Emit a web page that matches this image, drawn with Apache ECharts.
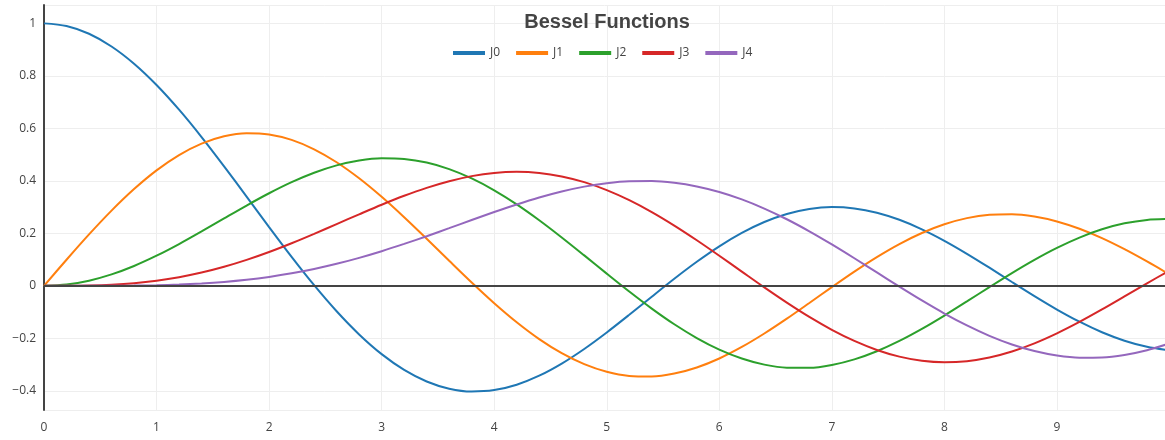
<!DOCTYPE html>
<html>
<head>
<meta charset="utf-8">
<script src="https://cdn.jsdelivr.net/npm/echarts@6/dist/echarts.min.js"></script>
<style>html,body{margin:0;padding:0;background:#fff}#c{width:1165px;height:440px}</style>
</head>
<body>
<div id="c"></div>
<script>
const xs = [0,0.2,0.4,0.6,0.8,1,1.2,1.4,1.6,1.8,2,2.2,2.4,2.6,2.8,3,3.2,3.4,3.6,3.8,4,4.2,4.4,4.6,4.8,5,5.2,5.4,5.6,5.8,6,6.2,6.4,6.6,6.8,7,7.2,7.4,7.6,7.8,8,8.2,8.4,8.6,8.8,9,9.2,9.4,9.6,9.8,10];
const J0 = [1,0.99,0.9604,0.912,0.8463,0.7652,0.6711,0.5669,0.4554,0.34,0.2239,0.1104,0.0025,-0.0968,-0.185,-0.2601,-0.3202,-0.3643,-0.3918,-0.4026,-0.3971,-0.3766,-0.3423,-0.2961,-0.2404,-0.1776,-0.1103,-0.0412,0.027,0.0917,0.1506,0.2017,0.2433,0.274,0.2931,0.3001,0.2951,0.2786,0.2516,0.2154,0.1717,0.1222,0.0692,0.0146,-0.0392,-0.0903,-0.1367,-0.1768,-0.209,-0.2323,-0.2459];
const J1 = [0,0.0995,0.196,0.2867,0.3688,0.4401,0.4983,0.5419,0.5699,0.5815,0.5767,0.556,0.5202,0.4708,0.4097,0.3391,0.2613,0.1792,0.0955,0.0128,-0.066,-0.1386,-0.2028,-0.2566,-0.2985,-0.3276,-0.3432,-0.3453,-0.3343,-0.311,-0.2767,-0.2329,-0.1816,-0.125,-0.0652,-0.0047,0.0543,0.1096,0.1592,0.2014,0.2346,0.258,0.2708,0.2728,0.2641,0.2453,0.2174,0.1816,0.1395,0.0928,0.0435];
const J2 = [0,0.005,0.0197,0.0437,0.0758,0.1149,0.1593,0.2074,0.257,0.3061,0.3528,0.3951,0.431,0.459,0.4776,0.4861,0.4835,0.4697,0.4448,0.4093,0.3641,0.3106,0.2501,0.1845,0.116,0.0466,-0.0217,-0.0867,-0.1464,-0.1989,-0.2429,-0.2768,-0.3001,-0.3119,-0.3123,-0.3014,-0.28,-0.249,-0.2097,-0.1638,-0.1131,-0.0593,-0.0047,0.0488,0.0992,0.1448,0.184,0.2154,0.2381,0.2512,0.2546];
const J3 = [0,0.0002,0.0013,0.0044,0.0102,0.0196,0.0329,0.0505,0.0725,0.0988,0.1289,0.1623,0.1981,0.2354,0.2726,0.3091,0.3431,0.3734,0.3987,0.418,0.4302,0.4344,0.4302,0.417,0.3952,0.3648,0.3265,0.2811,0.2297,0.1738,0.1148,0.0543,-0.006,-0.064,-0.1185,-0.1676,-0.2099,-0.2442,-0.2696,-0.2854,-0.2911,-0.2869,-0.273,-0.2501,-0.219,-0.1809,-0.1374,-0.0899,-0.0403,0.0097,0.0584];
const J4 = [0,0,0.0001,0.0003,0.001,0.0025,0.005,0.0091,0.015,0.0232,0.034,0.0476,0.0643,0.084,0.1067,0.132,0.1598,0.1892,0.2197,0.2507,0.2811,0.31,0.3365,0.3594,0.378,0.3912,0.3984,0.399,0.3925,0.3787,0.3576,0.3294,0.2945,0.2537,0.2077,0.1578,0.1051,0.051,-0.0031,-0.0557,-0.1054,-0.1506,-0.1903,-0.2233,-0.2485,-0.2655,-0.2736,-0.2728,-0.2633,-0.2453,-0.2196];
const names = ['J0','J1','J2','J3','J4'];
const colors = ['#1f77b4','#ff7f0e','#2ca02c','#d62728','#9467bd'];
const seriesValues = [J0,J1,J2,J3,J4];
const titleText = 'Bessel Functions';

const chart = echarts.init(document.getElementById('c'));
const font = '"Open Sans", "DejaVu Sans", sans-serif';
const series = seriesValues.map((vals, i) => ({
  name: names[i],
  type: 'line',
  data: xs.map((x, k) => [x, vals[k]]),
  showSymbol: false,
  smooth: 0.3,
  clip: true,
  z: 3,
  lineStyle: {color: colors[i], width: 2},
  itemStyle: {color: colors[i]}
}));
series.unshift({
  type: 'line',
  data: [],
  z: 1,
  silent: true,
  markLine: {
    symbol: 'none',
    silent: true,
    label: {show: false},
    lineStyle: {color: '#444', width: 2, type: 'solid'},
    data: [{yAxis: 0}]
  }
});
chart.setOption({
  animation: false,
  backgroundColor: '#fff',
  color: colors,
  title: {
    text: titleText,
    left: 602,
    textAlign: 'center',
    top: 7,
    textStyle: {fontFamily: '"Liberation Sans", Arial, sans-serif', fontWeight: 'bold', fontSize: 20, color: '#444'}
  },
  legend: {
    data: names,
    left: 448,
    top: 42,
    icon: 'rect',
    itemWidth: 32,
    itemHeight: 4,
    itemGap: 16,
    textStyle: {fontFamily: font, fontSize: 12, color: '#444'}
  },
  grid: {left: 44, right: 0, top: 5, bottom: 30, containLabel: false},
  xAxis: {
    type: 'value',
    min: 0,
    max: 9.96,
    interval: 1,
    axisLine: {show: false},
    axisTick: {show: false},
    axisLabel: {color: '#444', fontFamily: font, fontSize: 12, margin: 12, showMaxLabel: false},
    splitLine: {show: true, lineStyle: {color: '#eee', width: 1}}
  },
  yAxis: {
    type: 'value',
    min: -0.473,
    max: 1.07,
    splitNumber: 8,
    axisLine: {show: true, lineStyle: {color: '#444', width: 2}},
    axisTick: {show: false},
    axisLabel: {color: '#444', fontFamily: font, fontSize: 12, margin: 8, showMinLabel: false, showMaxLabel: false,
      formatter: v => String(v).replace('-', '\u2212')},
    splitLine: {show: true, lineStyle: {color: '#eee', width: 1}}
  },
  series: series
});
</script>
</body>
</html>
